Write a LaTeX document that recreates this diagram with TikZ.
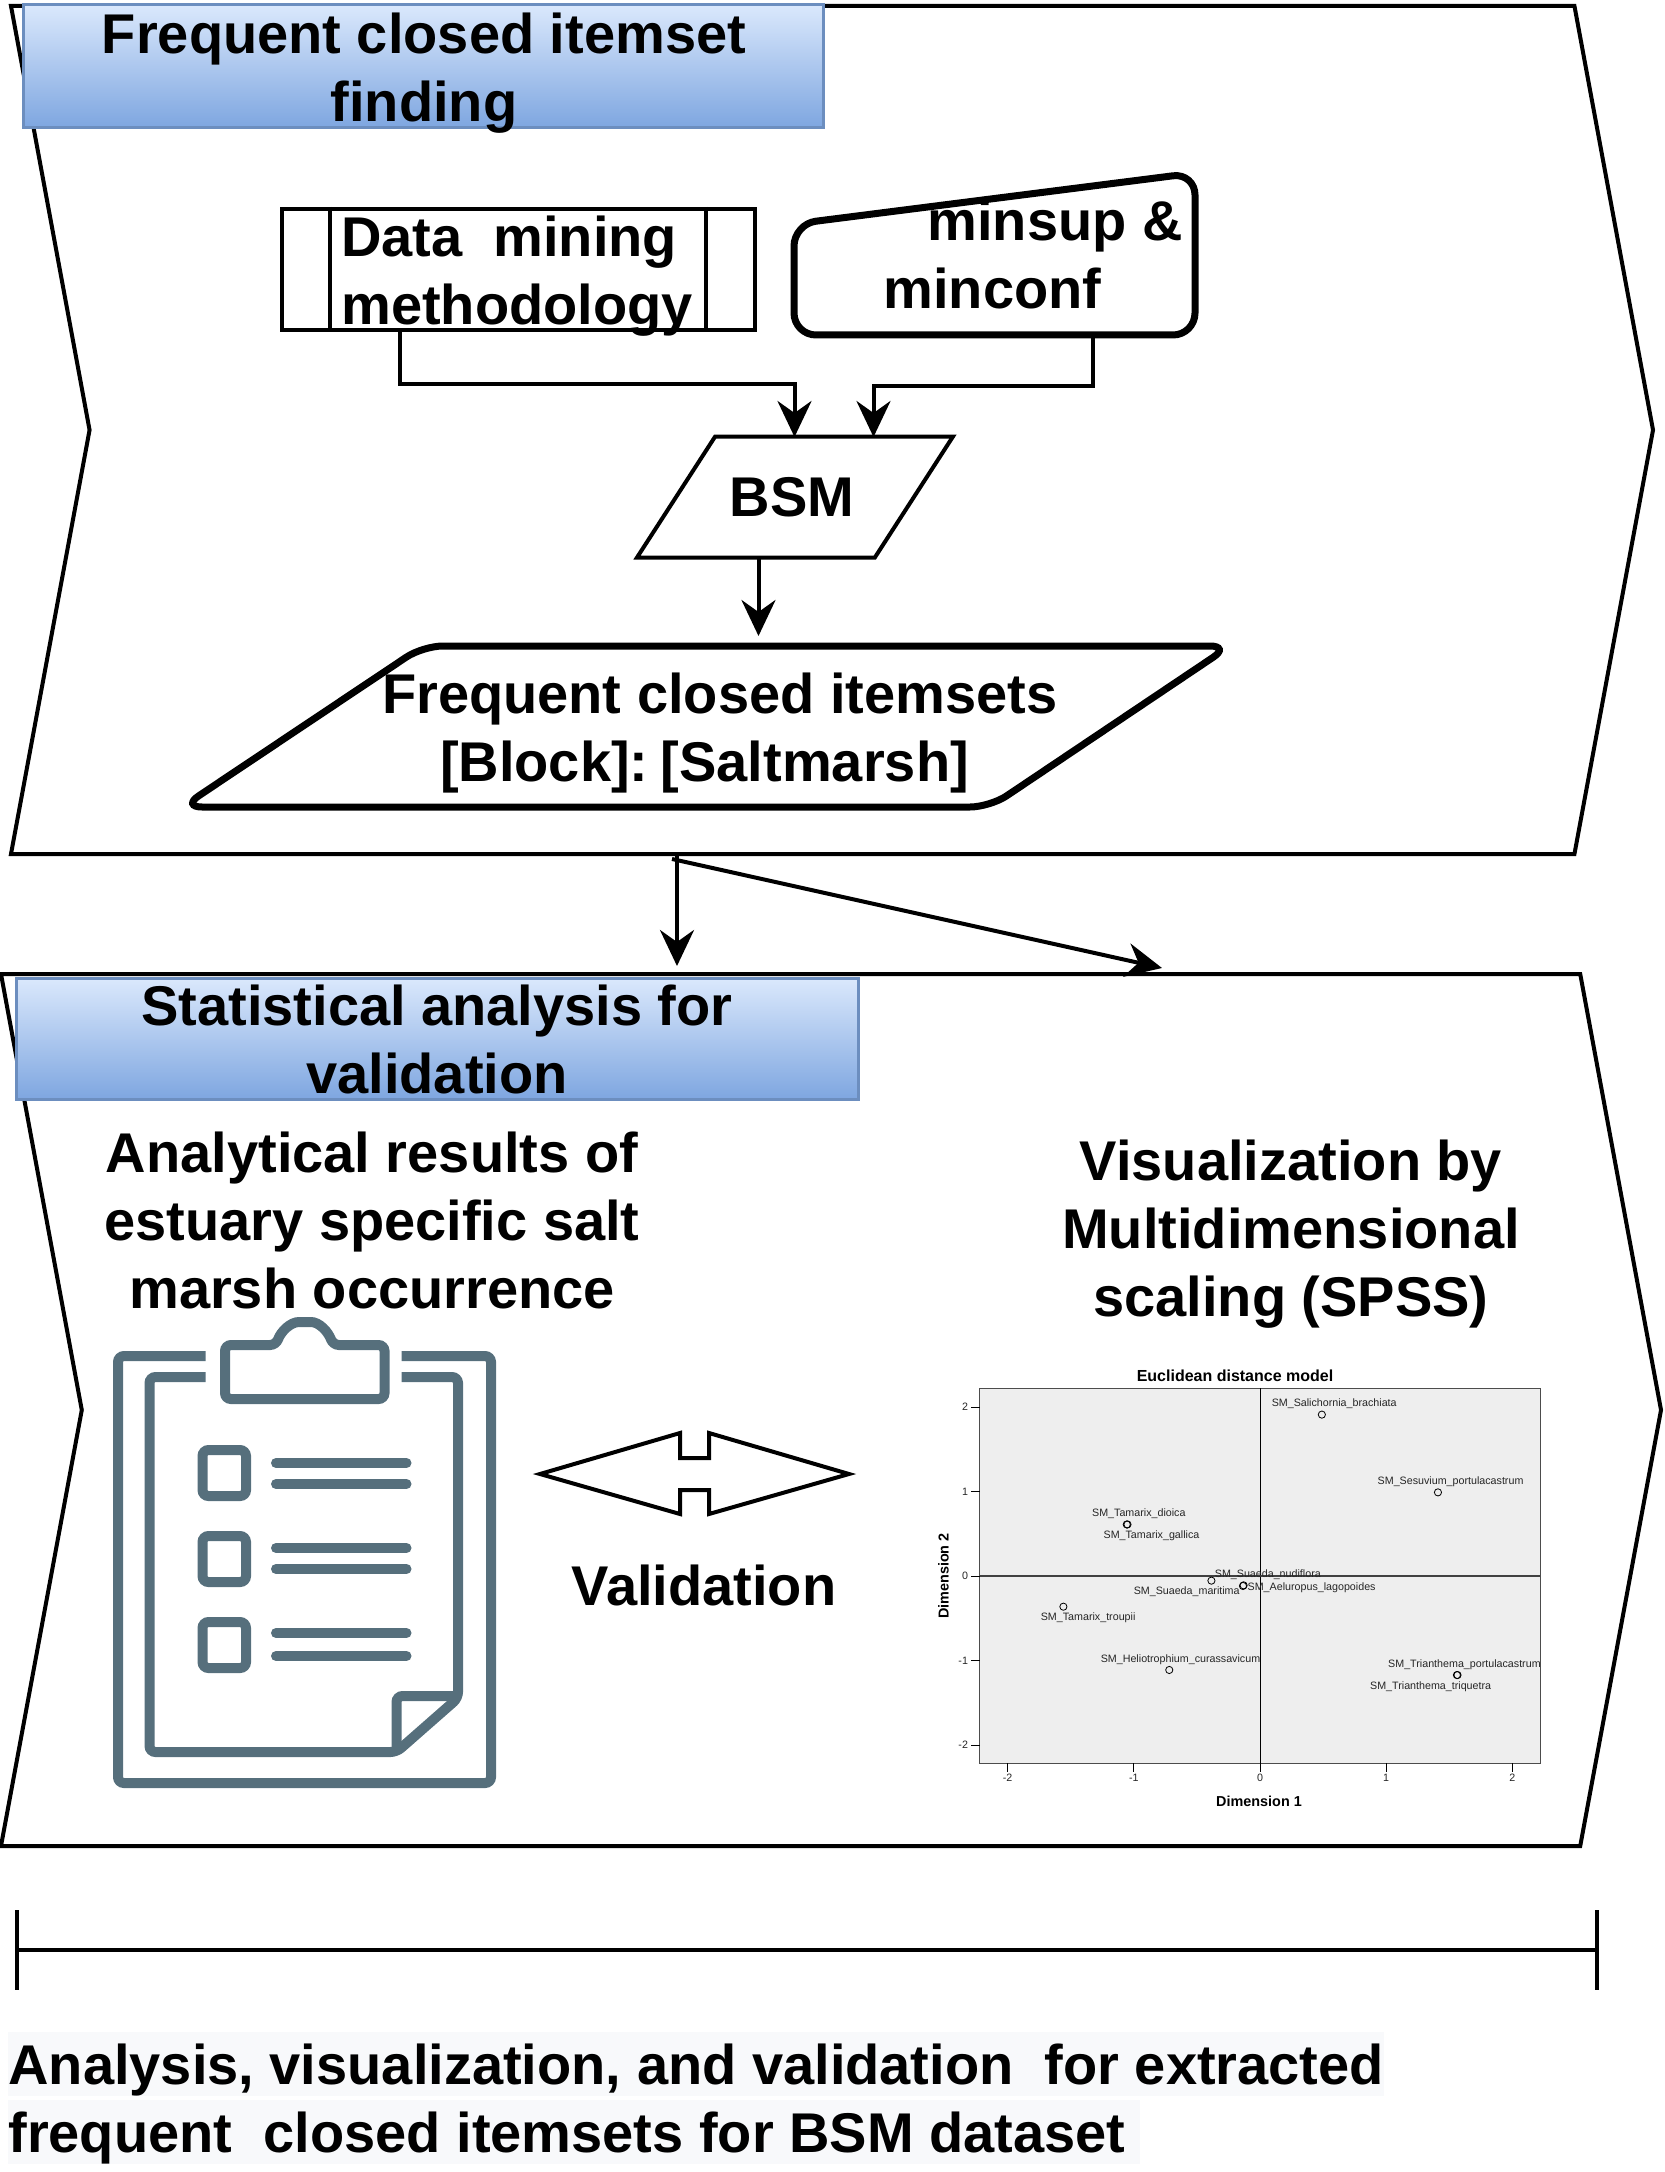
\documentclass[tikz,border=0pt]{standalone}
\usepackage{fontspec}
\setmainfont{Liberation Sans}
\usepackage{xcolor}
\usepackage{tikz}
\usetikzlibrary{shapes,arrows,arrows.meta}
\definecolor{headtop}{HTML}{DAE8FC}
\definecolor{headbottom}{HTML}{7EA6E0}
\definecolor{headline}{HTML}{6C8EBF}
\definecolor{boardblue}{HTML}{566F7C}
\definecolor{plotgray}{HTML}{EEEEEE}
\definecolor{marklight}{HTML}{F8F9FB}

\begin{document}
\begin{tikzpicture}[x=0.5pt,y=-0.5pt,auto,>={Stealth[length=18pt,width=17pt,inset=6pt]}]
    \tikzstyle{bigtext} = [font=\fontsize{28}{34}\selectfont\bfseries, align=center, inner sep=0pt]
    \tikzstyle{stage} = [draw, shape=signal, signal to=east, signal from=west, signal pointer angle=159, line width=2pt, inner sep=0pt]
    \tikzstyle{header} = [bigtext, draw=headline, line width=1.5pt, top color=headtop, bottom color=headbottom]
    \tikzstyle{block} = [draw, shape=rectangle, line width=2pt]
    \tikzstyle{slanted} = [bigtext, draw, shape=trapezium, trapezium stretches body=true]
    \tikzstyle{conn} = [line width=2pt]
    \tikzstyle{boardline} = [draw=boardblue, line width=5pt, rounded corners=3pt]
    \tikzstyle{species} = [font=\fontsize{5.35}{6}\selectfont, inner sep=0pt, text=black!85, yshift=-0.5pt]
    \tikzstyle{tick} = [font=\fontsize{5.35}{6}\selectfont, inner sep=0pt, text=black!85]
    \tikzstyle{spot} = [draw, shape=circle, minimum size=3.6pt, inner sep=0pt, line width=0.4pt]
    \tikzstyle{marked} = [font=\fontsize{28}{34}\selectfont\bfseries, fill=marklight, inner xsep=0pt, inner ysep=0pt, text height=26pt, text depth=6pt, anchor=west]

    \useasboundingbox (0,0) rectangle (1664,2172);

    %Creating Stages
    \node [stage, minimum width=821pt, minimum height=424pt] (finding) at (832,430) {};
    \node [stage, minimum width=830pt, minimum height=436pt] (statistics) at (831,1410) {};
    \node [header, minimum width=400pt, minimum height=61.5pt] (findinghead) at (423,66.5) {};
    \node [bigtext] (findingtext) at (424,73.5) {Frequent closed itemset\\finding};
    \node [header, minimum width=421pt, minimum height=60.5pt] (statshead) at (437,1039) {Statistical analysis for\\validation};

    %Creating Blocks of the first stage
    \node [block, minimum width=236.5pt, minimum height=60.5pt] (mining) at (518.7,269.5) {};
    \node [bigtext, align=left, anchor=west] (miningtext) at (341,276.5) {Data\hspace{15.4pt}mining\\methodology};
    \draw [conn] ([xshift=24.7pt]mining.north west) -- ([xshift=24.7pt]mining.south west);
    \draw [conn] ([xshift=-25.5pt]mining.north east) -- ([xshift=-25.5pt]mining.south east);
    \draw [line width=3.5pt, rounded corners=11pt] (794,224) -- (1195,173) -- (1195,335) -- (794,335) -- cycle;
    \node [bigtext, align=left] (minsup) at (1033,254) {\hspace*{22pt}minsup \&\\minconf};
    \node [slanted, line width=2pt, trapezium left angle=26.9, trapezium right angle=153.1, minimum width=158pt, minimum height=60.5pt] (bsm) at (795,497) {BSM\hspace*{3pt}};
    \draw [line width=3.5pt, rounded corners=10pt] (182,807) -- (423,646) -- (1230,646) -- (990,807) -- cycle;
    \node [bigtext] (itemsets) at (704.5,726.5) {\rule{0pt}{26.4pt}\hspace*{15.2pt}Frequent closed itemsets\\{[Block]:\hspace{6.2pt}[Saltmarsh]}};

    %Creating Connection Nodes
    \coordinate (miningout) at (400,330);
    \coordinate (minsupout) at (1093,335);
    \coordinate (bsmleft) at (794.5,437);
    \coordinate (bsmright) at (873.5,437);
    \coordinate (bsmout) at (758.5,556);
    \coordinate (itemsetsin) at (758.5,636);
    \coordinate (findingout) at (677,856);
    \coordinate (findingoutb) at (672,859);
    \coordinate (statsin) at (677,966);
    \coordinate (statsinb) at (1162,968);

    %Conecting Blocks
    \begin{scope}[conn]
         \draw[->] (miningout) -- ++(0,54) -| (bsmleft);
         \draw[->] (minsupout) -- ++(0,51) -| (bsmright);
         \draw[->] (bsmout) -- (itemsetsin);
         \draw[->] (findingout) -- (statsin);
         \draw[->] (findingoutb) -- (statsinb);
    \end{scope}

    %Texts of the second stage
    \node [bigtext] (analytical) at (372,1220) {Analytical results of\\estuary specific salt\\marsh occurrence};
    \node [bigtext] (visual) at (1291,1234) {Visualization by\\Multidimensional\\scaling (SPSS)};
    \draw [line width=2pt] (540,1474) -- (680,1433) -- (680,1458) -- (709,1458) -- (709,1433) -- (849,1474) -- (709,1514) -- (709,1490) -- (680,1490) -- (680,1514) -- cycle;
    \node [bigtext] (validation) at (704,1585) {Validation};

    %Clipboard
    \begin{scope}[boardline]
         \draw (205.5,1356) -- (118,1356) -- (118,1783) -- (491,1783) -- (491,1356) -- (401.5,1356);
         \draw (205.5,1377) -- (149.5,1377) -- (149.5,1752) -- (396.5,1752) -- (458,1698) -- (458,1377) -- (401.5,1377);
         \draw (396.5,1752) -- (396.5,1696) -- (458,1696);
         \draw (225,1345) -- (225,1399) -- (384.5,1399) -- (384.5,1345) -- (333,1345) to[out=110,in=0] (305,1322) to[out=180,in=70] (276,1345) -- cycle;
         \foreach \boxtop/\linea/\lineb in {1450/1463/1484, 1536/1548/1569, 1622/1633/1656}{
              \draw (202.5,\boxtop) rectangle (246,\boxtop+46);
              \draw [line cap=round] (276,\linea) -- (406.5,\linea);
              \draw [line cap=round] (276,\lineb) -- (406.5,\lineb);
         }
    \end{scope}

    %Multidimensional scaling plot
    \node [font=\fontsize{8}{9}\selectfont\bfseries, inner sep=0pt] (charttitle) at (1235,1376) {Euclidean distance model};
    \node [font=\fontsize{7.2}{8}\selectfont\bfseries, inner sep=0pt] (dimone) at (1259,1801) {Dimension 1};
    \node [font=\fontsize{7.2}{8}\selectfont\bfseries, inner sep=0pt, rotate=90] (dimtwo) at (943.5,1576) {Dimension 2};
    \begin{scope}[shift={(1260,1576)},x=63.1pt,y=42.25pt]
         \draw [fill=plotgray, draw=black!70, line width=0.5pt] (-2.221,-2.213) rectangle (2.221,2.225);
         \draw [line width=0.5pt] (0,-2.213) -- (0,2.225);
         \draw [line width=0.9pt, black!75] (-2.221,0) -- (2.221,0);
         \foreach \tickval in {-2,-1,0,1,2}{
              \draw [line width=0.4pt] (\tickval,-2.213) -- ++(0,-4.5pt);
              \node [tick] at (\tickval,-2.213-0.17) {\tickval};
              \draw [line width=0.4pt] (-2.221,\tickval) -- ++(-4.5pt,0);
              \node [tick, anchor=east] at (-2.221-0.09,\tickval) {\tickval};
         }
         \foreach \spotx/\spoty in {0.49/1.91, 1.41/0.99, -1.056/0.61, -1.05/0.61, -0.385/-0.055, -0.135/-0.118, -0.13/-0.11, -1.558/-0.363, -0.719/-1.112, 1.56/-1.172, 1.565/-1.172}
              \node [spot] at (\spotx,\spoty) {};
         \foreach \labx/\laby/\labtext in {0.588/2.055/SM\_Salichornia\_brachiata,
              1.510/1.132/SM\_Sesuvium\_portulacastrum,
              -0.960/0.746/SM\_Tamarix\_dioica,
              -0.860/0.485/SM\_Tamarix\_gallica,
              0.062/0.024/SM\_Suaeda\_nudiflora,
              0.409/-0.130/SM\_Aeluropus\_lagopoides,
              -0.581/-0.178/SM\_Suaeda\_maritima,
              -1.362/-0.485/SM\_Tamarix\_troupii,
              -0.630/-0.982/SM\_Heliotrophium\_curassavicum,
              1.620/-1.037/SM\_Trianthema\_portulacastrum,
              1.352/-1.298/SM\_Trianthema\_triquetra}
              \node [species] at (\labx,\laby) {\labtext};
    \end{scope}

    %Scale bar and caption
    \coordinate (barleft) at (17,1950);
    \coordinate (barright) at (1597,1950);
    \draw [conn] (barleft) -- (barright);
    \draw [conn] ([yshift=20pt]barleft) -- ([yshift=-20pt]barleft);
    \draw [conn] ([yshift=20pt]barright) -- ([yshift=-20pt]barright);
    \node [marked] (captiona) at (8,2064) {Analysis, visualization, and validation\ \ for extracted};
    \node [marked] (captionb) at (8,2132) {frequent\ \ closed itemsets for BSM dataset\hspace*{7pt}};
\end{tikzpicture}
\end{document}
